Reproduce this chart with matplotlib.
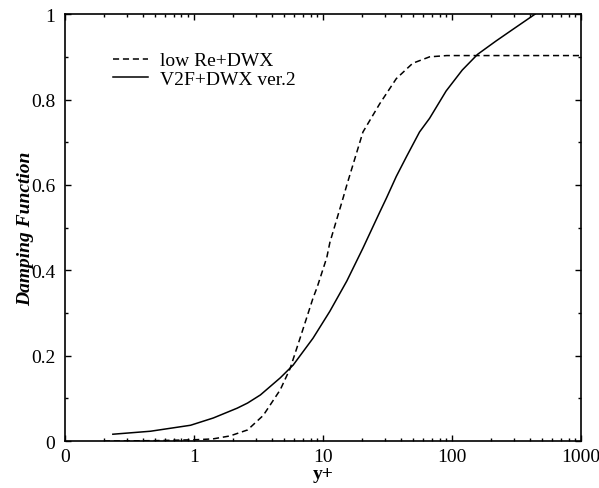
import matplotlib
matplotlib.use("Agg")
import matplotlib.pyplot as plt
from matplotlib.ticker import FixedLocator, FixedFormatter, LogLocator, NullFormatter, MultipleLocator

plt.rcParams['font.family'] = ['Liberation Serif', 'DejaVu Serif']

# low Re + DWX (dashed)
x_low = [0.2, 0.5, 1.0, 1.4, 1.9, 2.6, 3.44, 4.66, 5.56, 6.64, 8.37, 9.0, 10.7, 11.3, 14.3, 15.3, 20.4, 27.5, 37, 49.6, 67, 91, 150, 300, 1000]
y_low = [0.0, 0.001, 0.003, 0.005, 0.012, 0.026, 0.06, 0.12, 0.17, 0.241, 0.335, 0.36, 0.43, 0.465, 0.569, 0.6, 0.724, 0.79, 0.849, 0.885, 0.9, 0.903, 0.903, 0.903, 0.903]

# V2F + DWX ver.2 (solid)
x_v2f = [0.235, 0.46, 0.94, 1.41, 2.16, 2.6, 3.27, 4.66, 5.87, 8.37, 11.3, 15.3, 20.4, 27.5, 31, 37, 44.5, 56, 67, 90, 120, 158, 219, 295, 440]
y_v2f = [0.016, 0.023, 0.037, 0.054, 0.077, 0.089, 0.108, 0.148, 0.178, 0.241, 0.304, 0.375, 0.452, 0.536, 0.569, 0.62, 0.667, 0.724, 0.756, 0.82, 0.869, 0.906, 0.937, 0.964, 1.0]

xticks = [0.1, 1, 10, 100, 1000]
xticklabels = ["0", "1", "10", "100", "1000"]

fig = plt.figure(figsize=(5.99, 4.89), dpi=100)
ax = fig.add_axes([0.1085, 0.096, 0.8615, 0.873])

ax.plot(x_low, y_low, color='black', lw=1.1, linestyle=(0, (4, 2.5)), label='low Re+DWX')
ax.plot(x_v2f, y_v2f, color='black', lw=1.1, label='V2F+DWX ver.2')

ax.set_xscale('log')
ax.set_xlim(0.1, 1000)
ax.set_ylim(0, 1)

ax.xaxis.set_major_locator(FixedLocator(xticks))
ax.xaxis.set_major_formatter(FixedFormatter(xticklabels))
ax.xaxis.set_minor_locator(LogLocator(base=10, subs=[2, 3, 4, 5, 6, 7, 8, 9]))
ax.xaxis.set_minor_formatter(NullFormatter())
ax.yaxis.set_major_locator(FixedLocator([0, 0.2, 0.4, 0.6, 0.8, 1]))
ax.yaxis.set_major_formatter(FixedFormatter(["0", "0.2", "0.4", "0.6", "0.8", "1"]))
ax.yaxis.set_minor_locator(MultipleLocator(0.1))

ax.tick_params(which='both', direction='in', top=True, right=True, labelsize=14, width=1)
ax.tick_params(which='major', length=4)
ax.tick_params(axis='y', which='major', pad=7)
ax.tick_params(axis='x', which='major', pad=5)
ax.tick_params(which='minor', length=2.2)
for s in ax.spines.values():
    s.set_linewidth(1.2)

ax.set_xlabel('y+', fontsize=14, fontweight='bold', labelpad=0)
ax.set_ylabel('Damping Function', fontsize=14, fontweight='bold', fontstyle='italic', labelpad=-2)

ax.legend(loc='upper left', bbox_to_anchor=(0.078, 0.93), frameon=False, fontsize=14,
          handlelength=1.8, handletextpad=0.6, labelspacing=0.05, borderaxespad=0)

fig.savefig('out.png', dpi=100)
